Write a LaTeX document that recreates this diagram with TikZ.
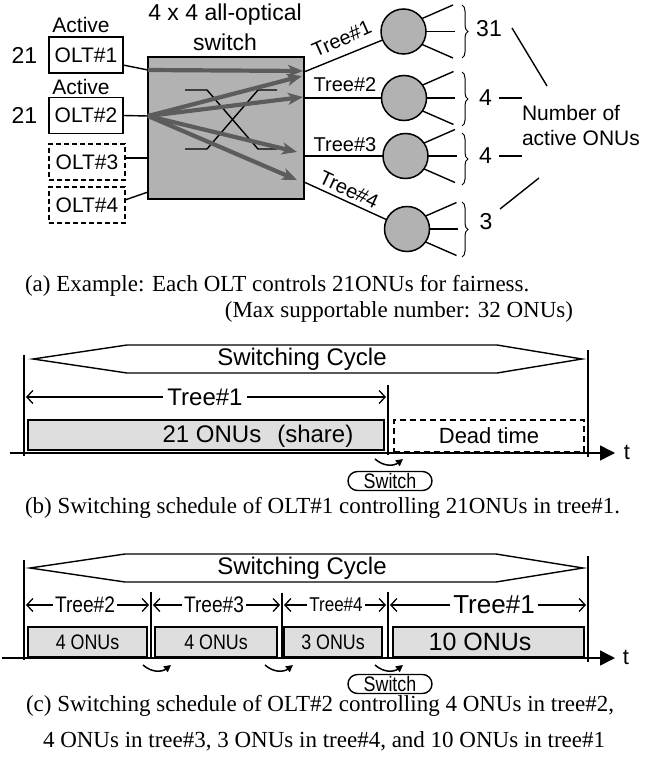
\documentclass[tikz,border=0pt]{standalone}
\usepackage{fontspec}
\setmainfont{Liberation Serif}
\setsansfont{Liberation Sans}
\newfontfamily\condfont[FakeStretch=0.85]{Liberation Sans}
\usetikzlibrary{arrows.meta,decorations.pathreplacing,shapes.misc,calc}
\definecolor{swgray}{HTML}{B2B2B2}
\definecolor{argray}{HTML}{5C5C5C}
\definecolor{boxgray}{HTML}{DEDEDE}
\newcommand{\myfs}[1]{\fontsize{#1}{#1}\selectfont}
\begin{document}
\begin{tikzpicture}[x=1pt,y=-1pt,line width=1.3pt,
  every node/.style={inner sep=0pt,outer sep=0pt},
  sf/.style={font=\sffamily\myfs{#1}},
  cf/.style={font=\condfont\myfs{#1}},
  rm/.style={font=\rmfamily\myfs{23}},
  wire/.style={line width=1.4pt},
  oltbox/.style={draw,line width=1.5pt,minimum width=74pt,minimum height=36pt,sf=21},
  oltoff/.style={oltbox,dash pattern=on 5pt off 3pt,minimum width=76pt},
  tree/.style={circle,draw,line width=1.5pt,fill=swgray,minimum size=45pt},
  garrow/.style={argray,line width=4.2pt,-{Stealth[length=15pt,width=12pt,inset=4pt]}},
  vbar/.style={line width=2pt},
  hexa/.style={line width=1.4pt},
  dimline/.style={line width=1.3pt,{Straight Barb[length=6pt,width=13pt]}-{Straight Barb[length=6pt,width=13pt]}},
  slot/.style={draw,line width=1.5pt,fill=boxgray,minimum height=30pt},
  swarc/.style={line width=1.5pt,-{Triangle[length=7pt,width=7pt]}},
  swlabel/.style={draw,rounded rectangle,line width=1.4pt,minimum width=84pt,minimum height=19pt,cf=21},
  taxis/.style={line width=1.5pt,-{Triangle[length=15pt,width=15pt]}},
  brc/.style={line width=1pt,decorate,decoration={brace,amplitude=6pt}},
]
\useasboundingbox (0,0) rectangle (663,759);

% ---------- (a) ----------
\node[sf=23] (ttl1) at (225,15) {4 x 4 all-optical};
\node[sf=23] (ttl2) at (225,42) {switch};
\node[sf=21] (act1) at (81,25) {Active};
\node[sf=21] (act2) at (81,87) {Active};
\node[oltbox] (o1) at (86,55) {OLT\#1};
\node[oltbox] (o2) at (86,115.5) {OLT\#2};
\node[oltoff] (o3) at (87,162) {OLT\#3};
\node[oltoff] (o4) at (87,205) {OLT\#4};
\node[sf=23] (n1) at (24.5,55) {21};
\node[sf=23] (n2) at (24.5,115.5) {21};
\node[draw,line width=1.5pt,fill=swgray,minimum width=156pt,minimum height=142pt] (sw) at (226,128) {};

\coordinate (i1) at (148,70);
\coordinate (i2) at (148,116);
\coordinate (i3) at (148,158);
\coordinate (i4) at (148,192);
\coordinate (p1) at (304,72);
\coordinate (p2) at (304,98);
\coordinate (p3) at (304,156);
\coordinate (p4) at (304,182);

\draw[wire] ([yshift=-10pt]o1.east) -- (i1);
\draw[wire] (o2.east) -- (i2);
\draw[wire] ([yshift=4pt]o3.east) -- (i3);
\draw[wire] ([yshift=5pt]o4.east) -- (i4);

\draw[wire] (185,90) -- (207,90) -- (258,149) -- (277,149);
\draw[wire] (185,149) -- (207,149) -- (258,90) -- (277,90);

\coordinate (g1) at (303,71);
\coordinate (g2) at (302,76);
\coordinate (g3) at (303,97);
\coordinate (g4) at (297,152);
\coordinate (g5) at (297,180);
\draw[garrow] (i1) -- (g1);
\draw[garrow] (i2) -- (g2);
\draw[garrow] (i2) -- (g3);
\draw[garrow] (i2) -- (g4);
\draw[garrow] (i2) -- (g5);

\node[tree] (c1) at (403.5,31.5) {};
\node[tree] (c2) at (404,98) {};
\node[tree] (c3) at (405.5,156) {};
\node[tree] (c4) at (407,229) {};
\draw[wire] (p1) -- (c1);
\draw[wire] (p2) -- (c2);
\draw[wire] (p3) -- (c3);
\draw[wire] (p4) -- (c4);
\foreach \c in {c1,c2,c3,c4}{
  \draw[wire] (\c.35) -- ($(\c.center)+(49.5,-26.5)$);
  \draw[wire] (\c.east) -- ($(\c.center)+(51,0)$);
  \draw[wire] (\c.-35) -- ($(\c.center)+(49.5,26.5)$);
}
\draw[brc] (462,5) -- (462,58);
\draw[brc] (462,72) -- (462,126);
\draw[brc] (462,133) -- (462,185);
\draw[brc] (462,202) -- (462,257);

\node[sf=23] (k1) at (489,29) {31};
\node[sf=23] (k2) at (485.5,97.5) {4};
\node[sf=23] (k3) at (485.5,156) {4};
\node[sf=23] (k4) at (486,222) {3};
\node[font=\sffamily\fontsize{21}{25}\selectfont,align=left,anchor=west] (noa) at (522,125.5) {Number of\\active ONUs};
\coordinate (m1a) at (512,28);  \coordinate (m1b) at (547,86);
\coordinate (m2a) at (499,98);  \coordinate (m2b) at (522,98);
\coordinate (m3a) at (499,156); \coordinate (m3b) at (522,156);
\coordinate (m4a) at (500,209); \coordinate (m4b) at (539,178);
\draw[wire] (m1a) -- (m1b);
\draw[wire] (m2a) -- (m2b);
\draw[wire] (m3a) -- (m3b);
\draw[wire] (m4a) -- (m4b);

\node[sf=20,rotate=24] (tl1) at (341.7,39) {Tree\#1};
\node[sf=20] (tl2) at (345,85) {Tree\#2};
\node[sf=20] (tl3) at (345,144.5) {Tree\#3};
\node[sf=20,rotate=-25] (tl4) at (349,190) {Tree\#4};

\node[rm,anchor=west] (capa1) at (25,286) {(a) Example: Each OLT controls 21ONUs for fairness.};
\node[rm,anchor=east] (capa2) at (573,312) {(Max supportable number: 32 ONUs)};

% ---------- (b) ----------
\node[sf=24] (sc1) at (302,359) {Switching Cycle};
\draw[hexa] (33,359) -- (127,345) -- (497,345) -- (582,359) -- (497,373) -- (127,373) -- cycle;
\draw[vbar] (24,355) -- (24,456);
\draw[vbar] (388,385) -- (388,455);
\draw[vbar] (588,350) -- (588,457);
\coordinate (b1l) at (26,397);
\coordinate (b1r) at (386,397);
\draw[dimline] (b1l) -- (b1r);
\node[sf=24,fill=white,inner xsep=4pt] (bt1) at (205,397) {Tree\#1};
\node[slot,minimum width=356pt] (bs1) at (206,435) {};
\node[sf=24] (bs1t) at (258,436) {21 ONUs\hspace{16pt}(share)};
\node[draw,line width=1.5pt,dash pattern=on 6pt off 4pt,minimum width=190pt,minimum height=32pt,sf=22] (bdead) at (489,436) {Dead time};
\coordinate (bax0) at (10,453);
\coordinate (bax1) at (615,453);
\draw[taxis] (bax0) -- (bax1);
\node[sf=22] (bt) at (627,452) {t};
\coordinate (bsa0) at (375,459);
\coordinate (bsa1) at (403,459);
\draw[swarc] (bsa0) .. controls (384,467) and (394,466) .. (bsa1);
\node[swlabel] (bsw) at (390,481) {Switch};

\node[rm,anchor=west] (capb) at (25,508) {(b) Switching schedule of OLT\#1 controlling 21ONUs in tree\#1.};

% ---------- (c) ----------
\node[sf=24] (sc2) at (302,568) {Switching Cycle};
\draw[hexa] (30,568) -- (125,554) -- (496,554) -- (583,568) -- (496,582) -- (125,582) -- cycle;
\draw[vbar] (24,560) -- (24,660);
\draw[vbar] (151,592) -- (151,658);
\draw[vbar] (282,593) -- (282,658);
\draw[vbar] (388,592) -- (388,658);
\draw[vbar] (588,556) -- (588,662);

\coordinate (d1l) at (26,605);  \coordinate (d1r) at (149,605);
\coordinate (d2l) at (153,605); \coordinate (d2r) at (280,605);
\coordinate (d3l) at (284,605); \coordinate (d3r) at (386,605);
\coordinate (d4l) at (390,605); \coordinate (d4r) at (586,605);
\draw[dimline] (d1l) -- (d1r);
\draw[dimline] (d2l) -- (d2r);
\draw[dimline] (d3l) -- (d3r);
\draw[dimline] (d4l) -- (d4r);
\node[cf=22.5,fill=white,inner xsep=2pt] (ct2) at (85,605) {Tree\#2};
\node[cf=22.5,fill=white,inner xsep=2pt] (ct3) at (214,605) {Tree\#3};
\node[cf=20,fill=white,inner xsep=2pt] (ct4) at (336,605) {Tree\#4};
\node[sf=26,fill=white,inner xsep=3pt] (ct1) at (494,605) {Tree\#1};

\node[slot,minimum width=119pt,cf=21] (cs1) at (87.5,642) {4 ONUs};
\node[slot,minimum width=122pt,cf=21] (cs2) at (216,642) {4 ONUs};
\node[slot,minimum width=98pt,cf=21] (cs3) at (333,642) {3 ONUs};
\node[slot,minimum width=191pt] (cs4) at (488.5,642) {};
\node[sf=25] (cs4t) at (480,642) {10 ONUs};

\coordinate (cax0) at (2,658);
\coordinate (cax1) at (615,658);
\draw[taxis] (cax0) -- (cax1);
\node[sf=22] (ctt) at (626,657) {t};
\foreach \x [count=\i] in {143,265,375}{
  \coordinate (ca\i) at (\x,665);
  \coordinate (cb\i) at (\x+28,665);
  \draw[swarc] (ca\i) .. controls +(9,8) and +(-9,7) .. (cb\i);
}
\node[swlabel] (csw) at (390,684) {Switch};

\node[rm,anchor=west] (capc1) at (26,706) {(c) Switching schedule of OLT\#2 controlling 4 ONUs in tree\#2,};
\node[rm,anchor=west] (capc2) at (43,741) {4 ONUs in tree\#3, 3 ONUs in tree\#4, and 10 ONUs in tree\#1};
\end{tikzpicture}
\end{document}
